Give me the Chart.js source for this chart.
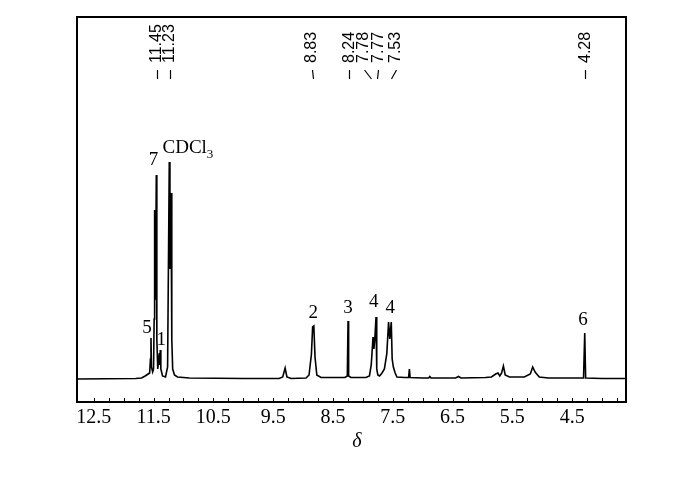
<!DOCTYPE html>
<html><head><meta charset="utf-8">
<script src="https://cdn.jsdelivr.net/npm/chart.js@4"></script>
<style>html,body{margin:0;padding:0;background:#fff}#wrap{width:700px;height:481px}</style>
</head><body><div id="wrap"><canvas id="c" width="700" height="481"></canvas></div>
<script>
// Spectrum: chemical shift (ppm) and relative intensity
const shiftPpm = [12.78,11.80,11.70,11.64,11.59,11.565,11.552,11.543,11.535,11.515,11.50,11.49,11.482,11.474,11.466,11.454,11.445,11.43,11.415,11.404,11.396,11.387,11.378,11.35,11.30,11.265,11.237,11.226,11.208,11.195,11.18,11.15,11.10,10.90,10.0,9.40,9.34,9.30,9.27,9.20,8.95,8.90,8.86,8.84,8.82,8.80,8.77,8.70,8.30,8.26,8.248,8.238,8.20,7.95,7.89,7.86,7.83,7.815,7.80,7.78,7.768,7.75,7.72,7.68,7.64,7.60,7.57,7.55,7.525,7.51,7.49,7.46,7.43,7.30,7.235,7.222,7.21,7.00,6.90,6.88,6.86,6.45,6.40,6.36,5.95,5.85,5.78,5.74,5.71,5.68,5.65,5.62,5.55,5.30,5.20,5.16,5.12,5.05,4.90,4.60,4.31,4.29,4.275,4.00,3.60];
const intensity = [0,0.5,1,3,5,6,20,41,12,7,10,60,169,80,95,204,40,10,18,26,14,29,10,3,2,12,217,110,186,40,10,4,2,1,0.5,0.5,2,11,2,0.5,1,4,25,52,53,22,4,1.5,1.5,3,58,3,1.5,1.5,3,14,42,30,40,62,10,4,3,6,10,25,57,40,57,20,12,6,2,1.5,1.5,10,1.5,1,1,2.5,1,1,2.5,1,1.5,2,5,6,3,6,13,4,2,2,5,12,7,2,1,1,1,46,1,0.5,0.5];

// Axis tick labels (ppm)
const tickLabels = [12.5,11.5,10.5,9.5,8.5,7.5,6.5,5.5,4.5];

// Shift labels along the top
const shiftLabels = ['11.45','11.23','8.83','8.24','7.78','7.77','7.53','4.28'];
const shiftPeaks = [11.45,11.23,8.83,8.24,7.86,7.77,7.53,4.28];
const shiftTextAt = [11.45,11.23,8.85,8.23,7.98,7.74,7.45,4.28];

// Peak assignment labels
const peakNames = ['7','CDCl3','5','1','2','3','4','4','6'];
const peakNameX = [11.50,11.35,11.61,11.37,8.83,8.25,7.82,7.54,4.32];
const peakNameY = [214,226,46,34,61,66,72,66,54];

const decor = {
  id:'decor',
  afterDraw(chart){
    const ctx = chart.ctx, a = chart.chartArea;
    const xs = chart.scales.x, ys = chart.scales.y;
    ctx.save();
    ctx.strokeStyle = '#000'; ctx.fillStyle = '#000';
    // frame
    ctx.lineWidth = 2;
    ctx.strokeRect(a.left, a.top, a.right - a.left, a.bottom - a.top);
    // minor ticks every 0.25 ppm, inward
    ctx.lineWidth = 1;
    for (let v = 12.5; v >= 3.74; v -= 0.25) {
      const x = Math.round(xs.getPixelForValue(v)) + 0.5;
      ctx.beginPath(); ctx.moveTo(x, a.bottom); ctx.lineTo(x, a.bottom - 4); ctx.stroke();
    }
    // tick labels
    ctx.font = '20px "Liberation Serif", "Times New Roman", serif';
    ctx.textAlign = 'center'; ctx.textBaseline = 'alphabetic';
    tickLabels.forEach(v => ctx.fillText(v.toFixed(1), xs.getPixelForValue(v), 423));
    // axis title
    ctx.font = 'italic 20px "Liberation Serif", "Times New Roman", serif';
    ctx.fillText('δ', 357, 447);
    // peak names
    ctx.font = '19px "Liberation Serif", "Times New Roman", serif';
    peakNames.forEach((n, i) => {
      const x = xs.getPixelForValue(peakNameX[i]), y = ys.getPixelForValue(peakNameY[i]);
      if (n === 'CDCl3') {
        ctx.textAlign = 'left';
        ctx.fillText('CDCl', x, y);
        const w = ctx.measureText('CDCl').width;
        ctx.font = '13px "Liberation Serif", "Times New Roman", serif';
        ctx.fillText('3', x + w, y + 5);
        ctx.font = '19px "Liberation Serif", "Times New Roman", serif';
      } else {
        ctx.textAlign = 'center';
        ctx.fillText(n, x, y);
      }
    });
    // shift labels (rotated) with connectors
    ctx.font = '16px "Liberation Sans", Arial, sans-serif';
    ctx.lineWidth = 1.2;
    shiftLabels.forEach((t, i) => {
      const xt = xs.getPixelForValue(shiftTextAt[i]);
      const xp = xs.getPixelForValue(shiftPeaks[i]);
      ctx.save();
      ctx.translate(xt, 63);
      ctx.rotate(-Math.PI / 2);
      ctx.textAlign = 'left'; ctx.textBaseline = 'middle';
      ctx.fillText(t, 0, 0);
      ctx.restore();
      ctx.beginPath();
      ctx.moveTo(Math.round(xt) + 0.5, 70);
      ctx.lineTo(Math.round(xp) + 0.5, 79);
      ctx.stroke();
    });
    ctx.restore();
  }
};

new Chart(document.getElementById('c'), {
  type: 'line',
  data: {
    datasets: [{
      data: shiftPpm.map((x, i) => ({x: x, y: intensity[i]})),
      borderColor: '#000',
      borderWidth: 1.6,
      pointRadius: 0,
      tension: 0,
      fill: false
    }]
  },
  options: {
    responsive: false,
    animation: false,
    devicePixelRatio: 1,
    layout: {padding: {left: 77, right: 74, top: 17, bottom: 79}},
    scales: {
      x: {type: 'linear', min: 3.6, max: 12.78, reverse: true, display: false},
      y: {min: -23, max: 362, display: false}
    },
    plugins: {legend: {display: false}, tooltip: {enabled: false}}
  },
  plugins: [decor]
});
</script>
</body></html>
